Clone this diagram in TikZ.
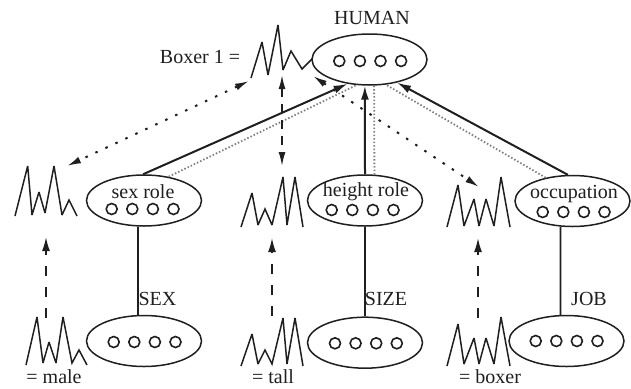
\documentclass[tikz,border=0pt]{standalone}
\usepackage{fontspec}
\setmainfont{Liberation Serif}
\usetikzlibrary{shapes.geometric}
\usetikzlibrary{arrows.meta}
\definecolor{ink}{gray}{0.12}
\tikzset{
  pool/.style={draw=ink, ellipse, line width=1.5pt, fill=white, inner sep=0pt, minimum width=115pt, minimum height=51pt},
  unit/.style={draw=ink, circle, line width=1.6pt, inner sep=0pt, minimum size=11pt},
  label/.style={text=ink, font=\fontsize{20}{22}\selectfont, inner sep=0pt},
  wave/.style={draw=ink, line width=1.5pt, line join=miter, miter limit=3},
  link/.style={draw=ink, line width=2pt},
  stem/.style={draw=ink, line width=1.8pt},
  role/.style={draw=black!50, line width=1.8pt, dash pattern=on 1.5pt off 2pt},
  tip/.style={{Latex[length=14pt,width=7pt]}-{Latex[length=14pt,width=7pt]}},
  uptip/.style={-{Latex[length=14pt,width=8pt]}},
  binddot/.style={draw=ink, line width=2pt, dash pattern=on 2.5pt off 8.5pt},
  binddash/.style={draw=ink, line width=1.6pt, dash pattern=on 9pt off 7pt},
  bindup/.style={draw=ink, line width=1.7pt, dash pattern=on 10pt off 11pt}
}
\begin{document}
\begin{tikzpicture}[x=1pt,y=-1pt]
  \useasboundingbox (0,0) rectangle (631,388);

  % activity patterns
  \draw[wave] (251,78) -- (262,42) -- (268,75) -- (278,25) -- (283,70) -- (291,51) -- (302,69) -- (312,59) -- (318,66);
  \draw[wave] (15,216) -- (27.7,166) -- (32,215) -- (39,192) -- (45,213) -- (54,166) -- (62,215) -- (69,200) -- (77,216);
  \draw[wave] (26,365) -- (37,317) -- (43,363) -- (49,342) -- (56,363) -- (63,317) -- (72,363) -- (79,350) -- (87,365);
  \draw[wave] (241,227) -- (252,193) -- (258,225) -- (265,209) -- (272,225) -- (283,177) -- (287,225) -- (295,177) -- (303,227);
  \draw[wave] (241,366) -- (252,334) -- (258,364) -- (265,350) -- (272,364) -- (283,318) -- (287,364) -- (295,318) -- (303,366);
  \draw[wave] (447,227) -- (458,185) -- (464,226) -- (474,199) -- (479,226) -- (486,199) -- (494,226) -- (501,177) -- (510,227);
  \draw[wave] (447,366) -- (458,324) -- (464,364) -- (474,338) -- (479,364) -- (486,338) -- (494,364) -- (501,317) -- (510,366);

  % ellipses and their units
  \foreach \name/\cx/\cy/\ux/\uy in {human/369.5/59.5/339.3/61, sexrole/144/200.5/111.7/209, heightrole/365/200.5/331.7/210, occupation/572.5/201/542.7/212, sex/144/341/113.7/342, size/365/342.7/335/343.3, job/566.5/341/535.7/341} {
    \node[pool] (\name) at (\cx,\cy) {};
    \foreach \i in {0,...,3}
      \node[unit] (\name-\i) at ({\ux+20.6*\i},\uy) {};
  }

  \node[label] (humanlabel) at (372,18) {HUMAN};
  \node[label] (boxerlabel) at (200,57) {Boxer 1 =};
  \node[label] (sexrolelabel) at (143,192) {sex role};
  \node[label] (heightrolelabel) at (366,192) {height role};
  \node[label] (occupationlabel) at (574,194) {occupation};
  \node[label] (sexlabel) at (157.5,299) {SEX};
  \node[label] (sizelabel) at (386,299) {SIZE};
  \node[label] (joblabel) at (589,299) {JOB};
  \node[label] (malelabel) at (54,377) {= male};
  \node[label] (talllabel) at (273,377) {= tall};
  \node[label] (boxerword) at (490,377) {= boxer};

  % ends of the bindings
  \coordinate (boxer-left) at (249,81);
  \coordinate (boxer-mid) at (282,75);
  \coordinate (boxer-right) at (313,76);
  \coordinate (male-top) at (67,166);
  \coordinate (tall-top) at (282,166);
  \coordinate (job-top) at (479,187);
  \coordinate (male-up) at (46,237);
  \coordinate (male-low) at (46,318);
  \coordinate (tall-up) at (272,238);
  \coordinate (tall-low) at (272,316);
  \coordinate (job-up) at (478,238);
  \coordinate (job-low) at (478,318);

  \draw[role] (sexrole.44) -- (human.243);
  \draw[role] (heightrole.70) -- (human.280);
  \draw[role] (occupation.139) -- (human.303);

  \draw[link,uptip] (sexrole.92) -- (human.228);
  \draw[link,uptip] (heightrole.90) -- (human.260);
  \draw[link,uptip] (occupation.100) -- (human.320);

  \draw[stem] (sexrole.257) -- (sex.103);
  \draw[stem] (heightrole) -- (size);
  \draw[stem] (occupation.245) -- (job.103);

  \draw[binddot,tip] (boxer-left) -- (male-top);
  \draw[binddash,tip] (boxer-mid) -- (tall-top);
  \draw[binddot,tip] (boxer-right) -- (job-top);

  \draw[bindup,uptip] (male-low) -- (male-up);
  \draw[bindup,uptip] (tall-low) -- (tall-up);
  \draw[bindup,uptip] (job-low) -- (job-up);
\end{tikzpicture}
\end{document}
